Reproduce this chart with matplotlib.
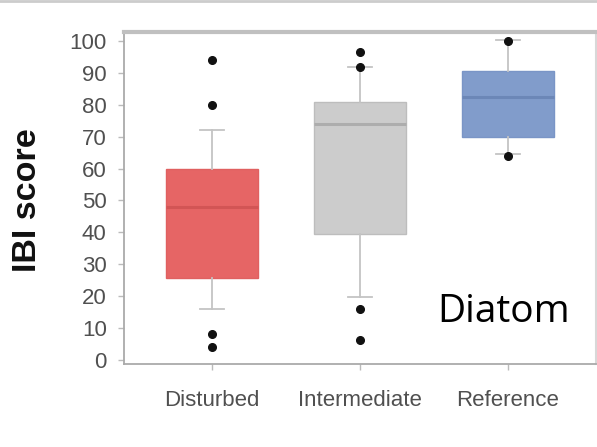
import matplotlib
matplotlib.use("Agg")
import matplotlib.pyplot as plt
from matplotlib.lines import Line2D

categories = ["Disturbed", "Intermediate", "Reference"]
q1 = [25.5, 39.5, 70.0]
medians = [48.0, 74.0, 82.5]
q3 = [60.0, 81.0, 90.5]
whisker_low = [16.0, 19.5, 64.5]
whisker_high = [72.0, 92.0, 100.5]
outliers = [[94, 80, 8, 4], [96.5, 92, 16, 6], [100, 64]]
yticks = [0, 10, 20, 30, 40, 50, 60, 70, 80, 90, 100]

face_colors = ["#E66565", "#CCCCCC", "#819CCB"]
median_colors = ["#D25555", "#ADADAD", "#6C87B7"]
edge_colors = ["#E06060", "#BDBDBD", "#7A95C6"]

fig = plt.figure(figsize=(5.97, 4.47), dpi=100)
ax = fig.add_axes([124/597, 1 - 364/447, (596 - 124)/597, (364 - 32)/447])

stats = []
for i, c in enumerate(categories):
    stats.append(dict(label=c, q1=q1[i], med=medians[i], q3=q3[i],
                      whislo=whisker_low[i], whishi=whisker_high[i],
                      fliers=outliers[i]))

positions = list(range(len(categories)))
res = ax.bxp(stats, positions=positions, widths=0.62, patch_artist=True,
             showfliers=True,
             whiskerprops=dict(color="#C4C4C4", lw=1.3),
             capprops=dict(color="#C4C4C4", lw=1.3),
             flierprops=dict(marker="o", markerfacecolor="#111111",
                             markeredgecolor="#111111", markersize=5.5))
for i, box in enumerate(res["boxes"]):
    box.set_facecolor(face_colors[i])
    box.set_edgecolor(edge_colors[i])
    box.set_linewidth(1.0)
for i, med in enumerate(res["medians"]):
    med.set_color(median_colors[i])
    med.set_linewidth(2.2)
for cap in res["caps"]:
    m = cap.get_xdata().mean()
    cap.set_xdata([m - 0.08, m + 0.08])

ax.set_xlim(-0.595, 2.595)
ax.set_ylim(-1.4, 102.9)
ax.set_yticks(yticks)
ax.set_xticks(positions)
ax.set_xticklabels(categories)
ax.tick_params(axis="both", colors="#BBBBBB", labelcolor="#505050",
               labelsize=16, length=4, width=1)
ax.tick_params(axis="x", pad=15)
ax.tick_params(axis="y", pad=8.5)
for lab in ax.get_yticklabels() + ax.get_xticklabels():
    lab.set_family("Liberation Sans")

for side in ["left", "bottom"]:
    ax.spines[side].set_color("#AAAAAA")
    ax.spines[side].set_linewidth(1.3)
ax.spines["top"].set_color("#C0C0C0")
ax.spines["top"].set_linewidth(3)
ax.spines["right"].set_color("#D8D8D8")
ax.spines["right"].set_linewidth(1.5)

fig.text(27.5/597, 1 - 200/447, "IBI score", rotation=90, ha="center",
         va="center", fontsize=24.5, fontweight="bold",
         family="Liberation Sans", color="#111111")

ax.text(0.945, 0.125, "Diatom", transform=ax.transAxes, ha="right",
        va="baseline", fontsize=28, family="Open Sans", color="black")

fig.add_artist(Line2D([0, 1], [0.998, 0.998], transform=fig.transFigure,
                      color="#CCCCCC", lw=2))

fig.savefig("out.png", dpi=100)
